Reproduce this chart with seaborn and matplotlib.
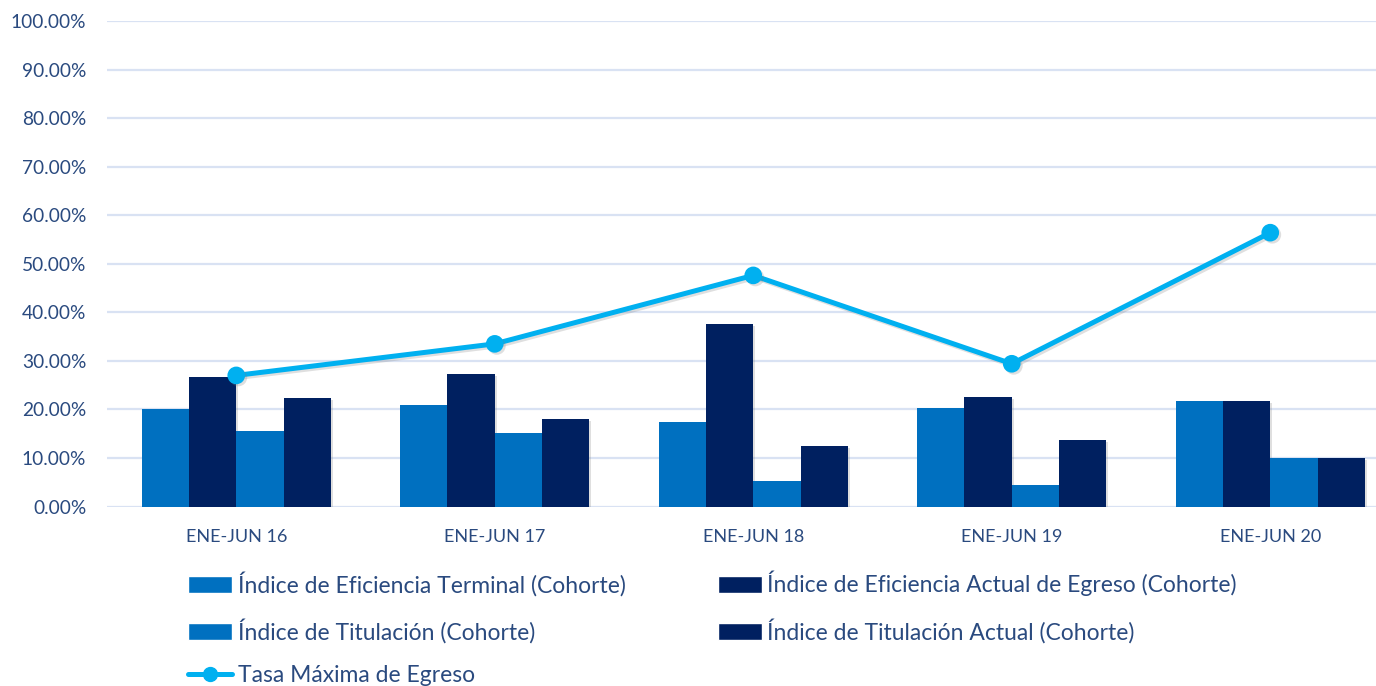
import matplotlib
matplotlib.use("Agg")
import matplotlib.pyplot as plt
import matplotlib.patheffects as pe
from matplotlib.patches import Patch
from matplotlib.lines import Line2D
from matplotlib.ticker import PercentFormatter
import numpy as np
import pandas as pd
import seaborn as sns

# Periods and indicator values (percent)
periodos = ["ENE-JUN 16", "ENE-JUN 17", "ENE-JUN 18", "ENE-JUN 19", "ENE-JUN 20"]
eficiencia_terminal = [20.1, 21.0, 17.4, 20.3, 21.8]
eficiencia_actual = [26.6, 27.3, 37.6, 22.5, 21.8]
titulacion = [15.6, 15.1, 5.2, 4.5, 10.0]
titulacion_actual = [22.3, 18.0, 12.5, 13.7, 10.0]
tasa_maxima = [27.0, 33.5, 47.6, 29.4, 56.4]

series_barras = [
    "Índice de Eficiencia Terminal (Cohorte)",
    "Índice de Eficiencia Actual de Egreso (Cohorte)",
    "Índice de Titulación (Cohorte)",
    "Índice de Titulación Actual (Cohorte)",
]
serie_linea = "Tasa Máxima de Egreso"

AZUL = "#0070C0"
MARINO = "#002060"
CELESTE = "#00B0F0"
TEXTO = "#2A4A7F"
REJILLA = "#D9E2F3"

sns.set_theme(style="white")
plt.rcParams["font.family"] = ["Lato", "DejaVu Sans"]

df_barras = pd.DataFrame({
    "periodo": np.tile(periodos, 4),
    "serie": np.repeat(series_barras, len(periodos)),
    "valor": eficiencia_terminal + eficiencia_actual + titulacion + titulacion_actual,
})
df_linea = pd.DataFrame({"periodo": periodos, "tasa": tasa_maxima})

fig = plt.figure(figsize=(13.76, 6.86), dpi=100)
ax = fig.add_axes([107 / 1376, 1 - 506.5 / 686, 1 - 107 / 1376, (506.5 - 21) / 686])

sombra = [pe.SimplePatchShadow(offset=(1.5, -1.5), alpha=0.25, shadow_rgbFace="#808080"), pe.Normal()]

sns.barplot(
    data=df_barras, x="periodo", y="valor", hue="serie",
    hue_order=series_barras, order=periodos,
    palette=[AZUL, MARINO, AZUL, MARINO], saturation=1,
    width=0.732, errorbar=None, legend=False, ax=ax, zorder=3,
)
for barra in ax.patches:
    barra.set_linewidth(0)
    barra.set_path_effects(sombra)

sns.pointplot(
    data=df_linea, x="periodo", y="tasa", order=periodos,
    color=CELESTE, markers="o", markersize=10, linewidth=3.6,
    errorbar=None, ax=ax,
)
for linea in ax.lines:
    linea.set_zorder(5)
    linea.set_path_effects([pe.SimpleLineShadow(offset=(1.5, -1.5), alpha=0.25, shadow_color="#808080"), pe.Normal()])

ax.set_xlim(-0.5, -0.5 + (1376 - 107) / 258.5)
ax.set_ylim(0, 100)
ax.set_yticks(np.arange(0, 101, 10))
ax.yaxis.set_major_formatter(PercentFormatter(100, decimals=2))
ax.grid(axis="y", color=REJILLA, linewidth=1.6, zorder=0)
ax.set_axisbelow(True)
for lado in ax.spines.values():
    lado.set_visible(False)
ax.set_xlabel("")
ax.set_ylabel("")
ax.tick_params(axis="y", length=0, pad=15, labelsize=13.8, labelcolor=TEXTO)
ax.tick_params(axis="x", length=0, pad=16, labelsize=13, labelcolor=TEXTO)

manijas = [
    Patch(facecolor=AZUL, label=series_barras[0]),
    Patch(facecolor=AZUL, label=series_barras[2]),
    Line2D([0], [0], color=CELESTE, linewidth=3.6, marker="o", markersize=10, label=serie_linea),
    Patch(facecolor=MARINO, label=series_barras[1]),
    Patch(facecolor=MARINO, label=series_barras[3]),
]
fig.legend(
    handles=manijas, loc="upper left", bbox_to_anchor=(188 / 1376, 1 - 571 / 686),
    ncol=2, frameon=False, fontsize=16.5, labelcolor=TEXTO,
    handlelength=1.92, handleheight=0.74, handletextpad=0.26,
    columnspacing=4.0, labelspacing=0.95, borderaxespad=0, borderpad=0,
)

fig.savefig("out.png", dpi=100)
